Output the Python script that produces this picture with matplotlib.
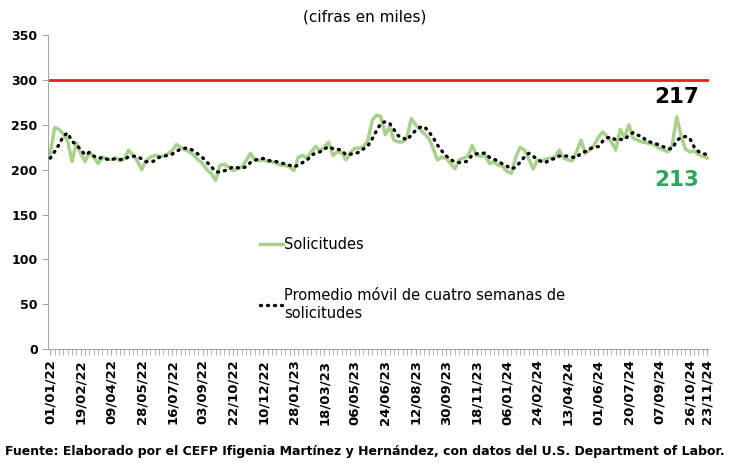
import numpy as np
import matplotlib
matplotlib.use("Agg")
from matplotlib import pyplot as plt

# solicitudes iniciales semanales (miles), 01/01/22 - 23/11/24
claims = [218, 247, 245, 240, 232, 209, 230, 218, 209, 220,
          214, 207, 214, 212, 211, 213, 210, 212, 222, 216,
          210, 200, 210, 214, 216, 215, 215, 218, 221, 228,
          225, 222, 220, 216, 211, 207, 200, 196, 188, 205,
          206, 203, 199, 201, 203, 210, 218, 211, 210, 211,
          209, 209, 207, 205, 205, 203, 199, 214, 216, 213,
          220, 226, 221, 225, 231, 216, 220, 219, 211, 219,
          224, 224, 226, 232, 255, 261, 259, 239, 248, 233,
          231, 231, 237, 257, 250, 245, 240, 235, 224, 211,
          214, 213, 207, 201, 211, 213, 215, 227, 216, 215,
          216, 207, 209, 205, 204, 198, 196, 214, 225, 222,
          212, 201, 211, 210, 212, 213, 214, 222, 213, 211,
          210, 220, 233, 218, 222, 227, 236, 242, 237, 231,
          222, 245, 236, 250, 235, 233, 231, 230, 229, 227,
          224, 222, 220, 228, 259, 238, 223, 220, 221, 217,
          215, 213]

# promedio movil de cuatro semanas (miles)
moving_avg = [213.0, 220.0, 228.0, 237.5, 241.0, 231.5, 227.8, 222.3, 216.5, 219.3,
              215.3, 212.5, 213.8, 211.8, 211.0, 212.5, 211.5, 211.5, 214.3, 215.0,
              215.0, 212.0, 209.0, 208.5, 210.0, 213.8, 215.0, 216.0, 217.3, 220.5,
              223.0, 224.0, 223.8, 220.8, 217.3, 213.5, 208.5, 203.5, 197.8, 197.3,
              198.8, 200.5, 203.3, 202.3, 201.5, 203.3, 208.0, 210.5, 212.3, 212.5,
              210.3, 209.8, 209.0, 207.5, 206.5, 205.0, 203.0, 205.3, 208.0, 210.5,
              215.8, 218.8, 220.0, 223.0, 225.8, 223.3, 223.0, 221.5, 216.5, 217.3,
              218.3, 219.5, 223.3, 226.5, 234.3, 243.5, 251.8, 253.5, 251.8, 244.8,
              237.8, 235.8, 233.0, 239.0, 243.8, 247.3, 248.0, 242.5, 236.0, 227.5,
              221.0, 215.5, 211.3, 208.8, 208.0, 208.0, 210.0, 216.5, 217.8, 218.3,
              218.5, 213.5, 211.8, 209.3, 206.3, 204.0, 200.8, 203.0, 208.3, 214.3,
              218.3, 215.0, 211.5, 208.5, 208.5, 211.5, 212.3, 215.3, 215.5, 215.0,
              214.0, 213.5, 218.5, 220.3, 223.3, 225.0, 225.8, 231.8, 235.5, 236.5,
              233.0, 233.8, 233.5, 238.3, 241.5, 238.5, 237.3, 232.3, 230.8, 229.3,
              227.5, 225.5, 223.3, 223.5, 232.3, 236.3, 237.0, 235.0, 225.5, 220.3,
              218.3, 216.5]

tick_pos = [0, 7, 14, 21, 28, 35, 42, 49, 56, 63, 70, 77, 84, 91, 98,
            105, 112, 119, 126, 133, 140, 147, 151]
tick_labels = ["01/01/22", "19/02/22", "09/04/22", "28/05/22", "16/07/22",
               "03/09/22", "22/10/22", "10/12/22", "28/01/23", "18/03/23",
               "06/05/23", "24/06/23", "12/08/23", "30/09/23", "18/11/23",
               "06/01/24", "24/02/24", "13/04/24", "01/06/24", "20/07/24",
               "07/09/24", "26/10/24", "23/11/24"]
threshold = 300

plt.rcParams['font.family'] = ['DejaVu Sans']

fig = plt.figure(figsize=(7.29, 4.63), dpi=100)
ax = fig.add_axes([0.066, 0.246, 0.907, 0.678])

x = np.arange(len(claims))
ax.axhline(threshold, color="#ee1c25", lw=2, zorder=1)
ax.plot(x, claims, color="#a9d18e", lw=2.5, label="Solicitudes", zorder=2)
ax.plot(x, moving_avg, color="black", lw=2.4, ls=(0, (0.3, 1.8)),
        dash_capstyle="round", label="Promedio móvil de cuatro semanas de\nsolicitudes",
        zorder=3)

ax.set_ylim(0, 350)
ax.set_yticks(range(0, 351, 50))
ax.set_xlim(-0.5, 151.5)
ax.set_xticks(tick_pos)
ax.set_xticklabels(tick_labels, rotation=90, fontsize=9.5, fontweight="bold")
ax.set_xticks(x, minor=True)
for lab in ax.get_yticklabels():
    lab.set_fontweight("bold")
    lab.set_fontsize(9)

for side in ["top", "right"]:
    ax.spines[side].set_visible(False)
for side in ["left", "bottom"]:
    ax.spines[side].set_color("#a6a6a6")
ax.tick_params(axis="both", which="both", color="#a6a6a6", direction="out")
ax.tick_params(axis="x", which="both", length=4)
ax.tick_params(axis="y", length=4)

ax.text(144.0, 281, "217", fontsize=15.5, fontweight="bold", color="black",
        ha="center", va="center")
ax.text(144.0, 188, "213", fontsize=15.5, fontweight="bold", color="#2aa75f",
        ha="center", va="center")

ax.legend(loc="upper left", bbox_to_anchor=(0.3, 0.4), frameon=False,
          fontsize=10.5, handlelength=1.6, labelspacing=2.5, handletextpad=0.1)

fig.text(0.5, 0.963, "(cifras en miles)", ha="center", va="center", fontsize=11)
fig.text(0.5, 0.024, "Fuente: Elaborado por el CEFP Ifigenia Martínez y Hernández, con datos del U.S. Department of Labor.",
         ha="center", va="center", fontsize=9, fontweight="bold")

fig.savefig("out.png", dpi=100)
